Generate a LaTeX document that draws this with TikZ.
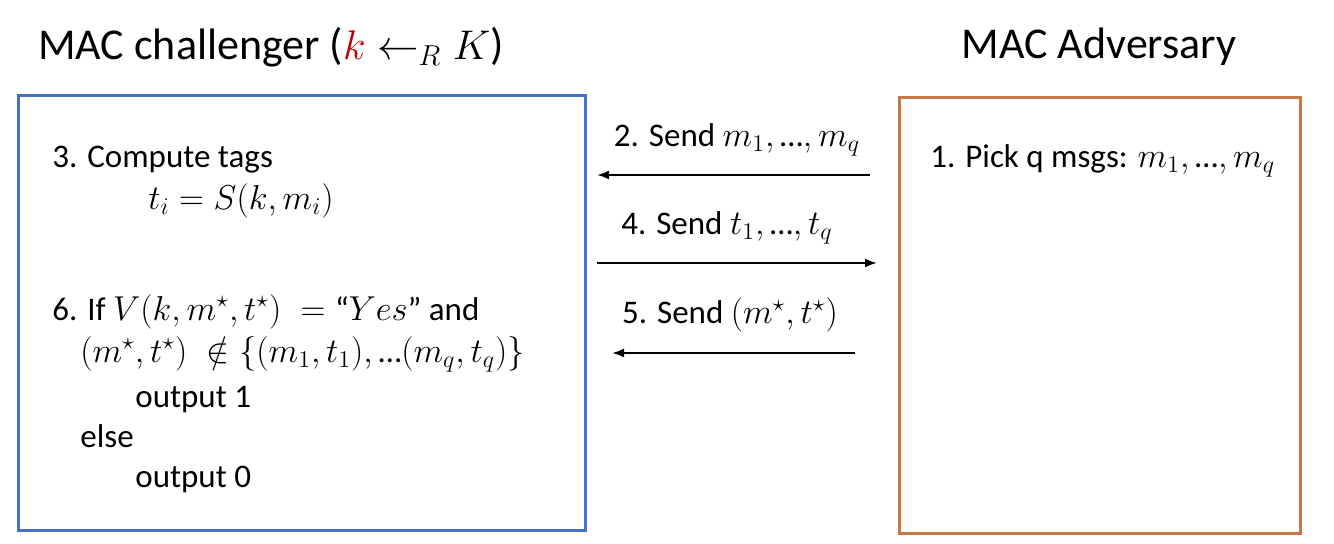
\documentclass[tikz,border=0pt]{standalone}
\usepackage{amssymb}
\usepackage{fontspec}
\setmainfont{Carlito}
\usetikzlibrary{arrows.meta}
\definecolor{chalblue}{RGB}{68,114,196}
\definecolor{advorange}{RGB}{197,120,70}
\definecolor{keyred}{RGB}{192,0,0}
\newcommand{\elp}{\mathord{\mbox{…}}}
\tikzset{
  title/.style={font=\fontsize{22}{26}\selectfont},
  line/.style={anchor=base west,font=\fontsize{16.5}{20}\selectfont,inner sep=0pt},
  msg/.style={font=\fontsize{16.5}{20}\selectfont},
  send/.style={-{Latex[length=6pt,width=4.5pt]},line width=1pt}
}
\begin{document}
\begin{tikzpicture}[x=0.5pt,y=0.5pt]
\useasboundingbox (0,0) rectangle (1334,543);
% parties
\draw[chalblue,line width=1.5pt] (18,13) rectangle (585,448);
\draw[advorange,line width=1.5pt] (899,10) rectangle (1300,446);
\node[title] (chal) at (271,496) {MAC challenger ($\textcolor{keyred}{k} \leftarrow_R K$)};
\node[title] (adv) at (1099,496) {MAC Adversary};
% challenger steps
\node[line] (tags) at (52,376) {3. Compute tags};
\node[line] (tagdef) at (148,334) {$t_i = S(k,m_i)$};
\node[line] (verify) at (52,223) {6. If $V(k,m^\star,t^\star) \;=\; $“$Yes$” and};
\node[line] (fresh) at (80,181) {$(m^\star,t^\star) \;\notin \{(m_1,t_1),\elp(m_q,t_q)\}$};
\node[line] (outone) at (135,136) {output 1};
\node[line] (otherwise) at (80,96) {else};
\node[line] (outzero) at (135,56) {output 0};
% adversary step
\node[line] (pick) at (930,376) {1. Pick q msgs: $m_1,\elp,m_q$};
% messages
\coordinate (s2) at (870,368);
\coordinate (e2) at (597,368);
\coordinate (s4) at (597,280);
\coordinate (e4) at (877,280);
\coordinate (s5) at (855,190);
\coordinate (e5) at (612,190);
\draw[send] (s2) -- (e2);
\draw[send] (s4) -- (e4);
\draw[send] (s5) -- (e5);
\node[msg] (m2) at (737,403) {2. Send $m_1,\elp,m_q$};
\node[msg] (m4) at (727,315) {4. Send $t_1,\elp,t_q$};
\node[msg] (m5) at (730,228) {5. Send $(m^\star,t^\star)$};
\end{tikzpicture}
\end{document}
